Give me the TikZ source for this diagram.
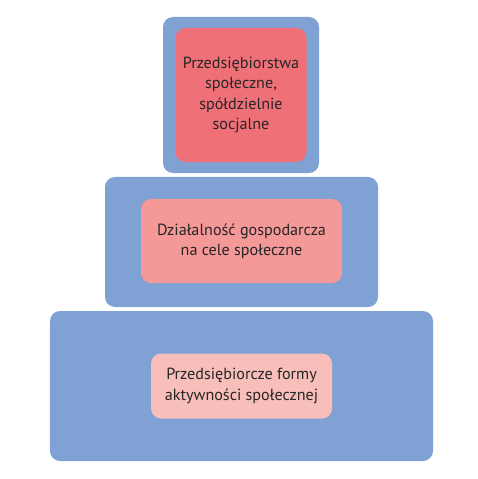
\documentclass[tikz,border=0pt]{standalone}
\usepackage{fontspec}
\setmainfont{PT Sans}
\definecolor{tierblue}{RGB}{127,161,212}
\definecolor{redA}{RGB}{240,112,120}
\definecolor{redB}{RGB}{244,152,152}
\definecolor{redC}{RGB}{248,190,186}
\tikzset{
  tier/.style={fill=tierblue, rounded corners=10bp, inner sep=0pt, outer sep=0pt},
  label box/.style={rounded corners=10bp, inner sep=0pt, outer sep=0pt, align=center,
    font=\fontsize{16.2}{20.4}\selectfont, text=black!85,
    execute at begin node={\rule{0pt}{25.5bp}}}
}
\begin{document}
\begin{tikzpicture}[x=1bp,y=-1bp]
\useasboundingbox (0,0) rectangle (478,479);
% outer tiers
\node[tier, minimum width=156bp, minimum height=156bp] (tiertop) at (241,95) {};
\node[tier, minimum width=273bp, minimum height=130bp] (tiermid) at (241.5,242) {};
\node[tier, minimum width=383bp, minimum height=150bp] (tierbot) at (241.5,386) {};
% inner boxes
\node[label box, fill=redA, minimum width=131bp, minimum height=134bp] (firms) at (tiertop.center)
  {Przedsiębiorstwa\\społeczne,\\spółdzielnie\\socjalne};
\node[label box, fill=redB, minimum width=201bp, minimum height=84bp] (business) at ([yshift=1bp]tiermid.center)
  {Działalność gospodarcza\\na cele społeczne};
\node[label box, fill=redC, minimum width=181bp, minimum height=65bp] (forms) at (tierbot.center)
  {Przedsiębiorcze formy\\aktywności społecznej};
\end{tikzpicture}
\end{document}
